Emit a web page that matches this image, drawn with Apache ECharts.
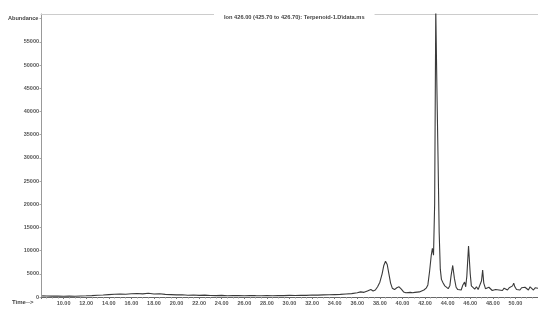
<!DOCTYPE html>
<html>
<head>
<meta charset="utf-8">
<script src="https://cdn.jsdelivr.net/npm/echarts@6/dist/echarts.min.js"></script>
<style>html,body{margin:0;padding:0;background:#fff}#c{width:538px;height:309px}</style>
</head>
<body>
<div id="c"></div>
<script>
const titleText = "Ion 426.00 (425.70 to 426.70): Terpenoid-1.D\\data.ms";
const yName = "Abundance";
const xName = "Time-->";
const times = [
  8.1, 8.5, 9.0, 9.5, 10.0, 10.5, 11.0, 11.5, 12.0, 12.5, 13.0, 13.5, 14.0, 14.5, 15.0, 15.5,
  16.0, 16.5, 17.0, 17.5, 18.0, 18.5, 19.0, 19.5, 20.0, 20.5, 21.0, 21.5, 22.0, 22.5, 23.0, 23.5,
  24.0, 24.5, 25.0, 25.5, 26.0, 26.5, 27.0, 27.5, 28.0, 28.5, 29.0, 29.5, 30.0, 30.5, 31.0, 31.5,
  32.0, 32.5, 33.0, 33.5, 34.0, 34.5, 35.0, 35.5,
  36.0, 36.3, 36.6, 36.9, 37.2, 37.4, 37.6, 37.8, 38.0, 38.2, 38.35, 38.5, 38.65, 38.8, 38.95, 39.1,
  39.3, 39.5, 39.7, 39.9, 40.1, 40.3, 40.5, 40.7, 40.9, 41.1, 41.3, 41.5, 41.7, 41.9, 42.1, 42.25,
  42.4, 42.55, 42.65, 42.75, 42.85, 42.95, 43.05, 43.15, 43.25, 43.35, 43.45, 43.6, 43.75, 43.9, 44.05, 44.2,
  44.3, 44.45, 44.6, 44.75, 44.9, 45.05, 45.2, 45.35, 45.5, 45.6, 45.7, 45.85, 46.0, 46.1, 46.25, 46.4,
  46.55, 46.7, 46.85, 47.0, 47.1, 47.2, 47.35, 47.5, 47.65, 47.8, 47.95, 48.1, 48.25, 48.4, 48.55, 48.7,
  48.85, 49.0, 49.15, 49.3, 49.45, 49.6, 49.75, 49.85, 49.95, 50.1, 50.25, 50.4, 50.55, 50.7, 50.85, 51.0,
  51.15, 51.3, 51.45, 51.6, 51.75, 51.9, 52.0
];
const abundance = [
  250, 200, 180, 220, 150, 200, 170, 230, 260, 300, 380, 420, 520, 600, 650, 580,
  700, 760, 680, 820, 640, 700, 560, 520, 450, 480, 380, 420, 350, 400, 330, 300,
  360, 280, 320, 300, 260, 330, 290, 270, 310, 280, 330, 300, 350, 320, 380, 360,
  420, 400, 450, 480, 520, 560, 650, 720,
  900, 1100, 1000, 1300, 1600, 1300, 1500, 2200, 3200, 5000, 6800, 7700, 7000, 5000, 3000, 1900,
  1600, 2000, 2200, 1700, 1100, 900, 950, 1000, 900, 1000, 1050, 1100, 1300, 1500, 1900, 2600,
  5500, 9000, 10500, 9000, 20000, 62000, 45000, 30000, 14000, 6000, 3800, 3000, 2400, 2000, 1800, 2500,
  4500, 6800, 4000, 2100, 1600, 1800, 1500, 2600, 3200, 2200, 4500, 11000, 5000, 2400, 2000, 1700,
  2200, 1600, 1900, 3500, 5800, 3000, 1800, 1500, 2100, 1700, 1400, 1800, 1600, 2000, 1500, 1700,
  1400, 1900, 1600, 1500, 2000, 1700, 2400, 3000, 2200, 1600, 1800, 1500, 2000, 1600, 2100, 1700,
  1500, 2200, 1800, 1500, 2000, 1700, 1900
];

const seriesData = times.map((t, i) => [t, abundance[i]]);
const font = 'Liberation Sans';
const chart = echarts.init(document.getElementById('c'), null, {renderer: 'canvas'});
chart.setOption({
  animation: false,
  backgroundColor: '#fff',
  title: {
    text: titleText,
    left: 214, top: 11,
    backgroundColor: '#fff',
    padding: [3, 10, 2, 10],
    textStyle: {fontSize: 5.7, fontWeight: 'bold', color: '#444', fontFamily: font}
  },
  grid: {left: 41, right: 0, top: 14, bottom: 12, containLabel: false},
  xAxis: [{
    type: 'value', min: 8, max: 52, interval: 2,
    axisLine: {show: true, lineStyle: {color: '#666', width: 1}},
    axisTick: {show: true, length: 2, lineStyle: {color: '#777'}},
    minorTick: {show: true, splitNumber: 4, length: 1.5, lineStyle: {color: '#999'}},
    splitLine: {show: false},
    axisLabel: {
      showMinLabel: false, showMaxLabel: false, margin: 3,
      fontSize: 5.5, fontWeight: 'bold', color: '#555', fontFamily: font,
      formatter: v => v.toFixed(2)
    }
  }, {
    type: 'value', position: 'top', min: 8, max: 52,
    axisLine: {show: true, onZero: false, lineStyle: {color: '#ccc', width: 1}},
    axisTick: {show: false}, axisLabel: {show: false}, splitLine: {show: false}
  }],
  yAxis: {
    type: 'value', min: 0, max: 61000, interval: 5000,
    axisLine: {show: true, lineStyle: {color: '#999', width: 1}},
    axisTick: {show: true, length: 1.5, lineStyle: {color: '#aaa'}},
    splitLine: {show: false},
    axisLabel: {
      showMaxLabel: false, margin: 2,
      fontSize: 5.5, fontWeight: 'bold', color: '#555', fontFamily: font,
      formatter: v => (v >= 60000 ? '' : String(v))
    }
  },
  graphic: [
    {type: 'text', left: 8, top: 15, style: {text: yName, fontSize: 5.6, fontWeight: 'bold', fill: '#444', fontFamily: font}},
    {type: 'text', left: 12, top: 299, style: {text: xName, fontSize: 6, fontWeight: 'bold', fill: '#444', fontFamily: font}}
  ],
  series: [{
    type: 'line', xAxisIndex: 0, data: seriesData, showSymbol: false, clip: true,
    lineStyle: {color: '#3a3a3a', width: 1.1}
  }]
});
</script>
</body>
</html>
